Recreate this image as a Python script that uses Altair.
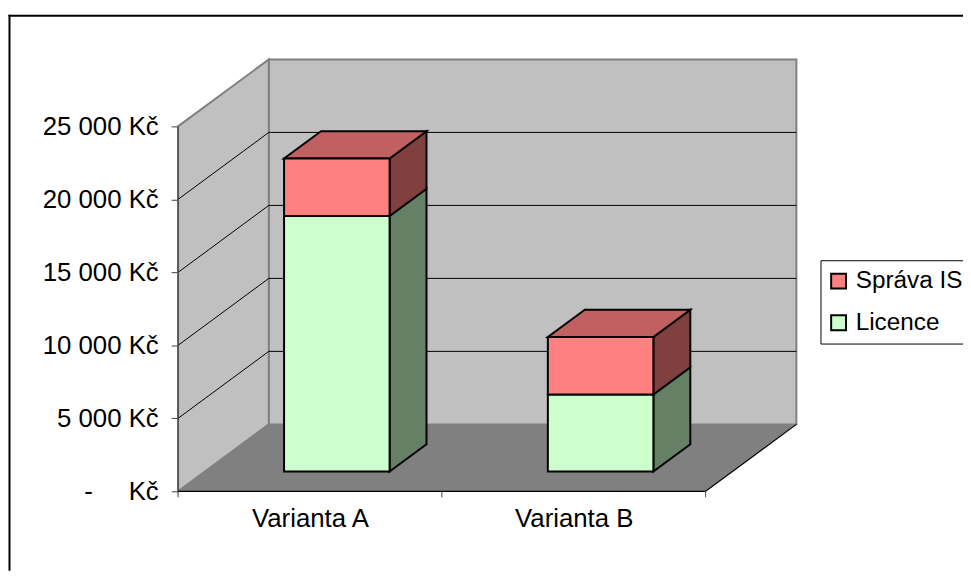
import json
import altair as alt
import pandas as pd

# ---- values ----
categories = ["Varianta A", "Varianta B"]
licence = [17500, 5270]
sprava = [3940, 3940]
series_names = ["Správa IS", "Licence"]
tick_values = [0, 5000, 10000, 15000, 20000, 25000]
tick_labels = ["-\u00a0\u00a0\u00a0\u00a0\u00a0Kč", "5 000 Kč", "10 000 Kč", "15 000 Kč", "20 000 Kč", "25 000 Kč"]

# ---- 3D look: depth shift of the box in axis units ----
DX = 0.344       # category units for full depth
DY = 4586        # Kč for full depth
BAR_W = 0.4
D0, D1 = 0.296, 0.703
FONT = "Liberation Sans"
FS = 26
W, H = 963, 565

xs = alt.Scale(domain=[-0.6447, 2.9756], nice=False, zero=False)
ys = alt.Scale(domain=[-5435, 32948], nice=False, zero=False)

label_map = {str(v): t for v, t in zip(tick_values, tick_labels)}
cat_map = {"0.5": categories[0], "1.5": categories[1]}

x_axis = alt.Axis(
    orient="bottom", offset=-80, values=[0.5, 1.5], ticks=False, domain=False, grid=False,
    labelExpr=f"{json.dumps(cat_map)}[datum.value]", labelFont=FONT, labelFontSize=26,
    labelColor="black", labelPadding=14, labelFlush=False, labelOverlap=False, title=None)
y_axis = alt.Axis(
    orient="left", offset=-171.5, values=tick_values, domain=False, grid=False,
    tickColor="#404040", tickSize=7, tickWidth=1,
    labelExpr=f"{json.dumps(label_map)}[datum.value]", labelFont=FONT, labelFontSize=FS,
    labelColor="black", labelPadding=13, labelOverlap=False, title=None)


def X(f="x"):
    return alt.X(f + ":Q", scale=xs, axis=x_axis)


def Y(f="y"):
    return alt.Y(f + ":Q", scale=ys, axis=y_axis)


back = (
    alt.Chart(pd.DataFrame([{"x": DX, "x2": 2 + DX, "y": DY, "y2": 25000 + DY}]))
    .mark_rect(fill="#C0C0C0", stroke="#808080", strokeWidth=2)
    .encode(x=X(), x2="x2:Q", y=Y(), y2="y2:Q")
)

side_wall = (
    alt.Chart(pd.DataFrame([
        {"x": 0, "y": 0, "y2": 25000},
        {"x": DX, "y": DY, "y2": 25000 + DY},
    ]))
    .mark_area(fill="#C0C0C0", stroke="#808080", strokeWidth=2)
    .encode(x=X(), y=Y(), y2="y2:Q")
)

floor = (
    alt.Chart(pd.DataFrame([
        {"y": 0, "x": 0, "x2": 2},
        {"y": DY, "x": DX, "x2": 2 + DX},
    ]))
    .mark_area(orient="horizontal", fill="#808080")
    .encode(y=Y(), x=X(), x2="x2:Q")
)

# gridlines
grid_rows = []
for v in tick_values[1:-1]:
    grid_rows.append({"x": DX, "x2": 2 + DX, "y": v + DY, "y2": v + DY})
    grid_rows.append({"x": 0, "x2": DX, "y": v, "y2": v + DY})
grid = (
    alt.Chart(pd.DataFrame(grid_rows))
    .mark_rule(color="#000000", strokeWidth=1)
    .encode(x=X(), x2="x2:Q", y=Y(), y2="y2:Q")
)

edge_rows = [
    {"x": 0, "x2": 0, "y": 0, "y2": 25000, "c": "#404040"},
    {"x": 0, "x2": 2, "y": 0, "y2": 0, "c": "#000000"},
    {"x": 2, "x2": 2 + DX, "y": 0, "y2": DY, "c": "#000000"},
]
edges = (
    alt.Chart(pd.DataFrame(edge_rows))
    .mark_rule(strokeWidth=1.2)
    .encode(x=X(), x2="x2:Q", y=Y(), y2="y2:Q", stroke=alt.Stroke("c:N", scale=None))
)

x_ticks = (
    alt.Chart(pd.DataFrame({"x": [0, 1, 2]}))
    .mark_rule(color="#404040", strokeWidth=1)
    .encode(x=X(), y=alt.value(485), y2=alt.value(491))
)

# bars
front_rows, side_rows, top_rows = [], [], []
for i, cat in enumerate(categories):
    left = i + 0.5 - BAR_W / 2 + D0 * DX
    right = left + BAR_W
    base = D0 * DY
    span = (D1 - D0)
    stack = [("Licence", 0, licence[i], "#668066"), ("Správa IS", licence[i], licence[i] + sprava[i], "#804040")]
    for name, lo, hi, side_col in stack:
        front_rows.append({"x": left, "x2": right, "y": lo + base, "y2": hi + base, "series": name})
        fid = f"{cat}-{name}"
        side_rows.append({"x": right, "y": lo + base, "y2": hi + base, "f": side_col, "id": fid})
        side_rows.append({"x": right + span * DX, "y": lo + D1 * DY, "y2": hi + D1 * DY, "f": side_col, "id": fid})
    top = licence[i] + sprava[i]
    top_rows.append({"y": top + base, "x": left, "x2": right, "id": cat, "f": "#C06060"})
    top_rows.append({"y": top + D1 * DY, "x": left + span * DX, "x2": right + span * DX, "id": cat, "f": "#C06060"})

sides = (
    alt.Chart(pd.DataFrame(side_rows))
    .mark_area(stroke="black", strokeWidth=2, strokeJoin="miter")
    .encode(x=X(), y=Y(), y2="y2:Q", detail="id:N", fill=alt.Fill("f:N", scale=None))
)
tops = (
    alt.Chart(pd.DataFrame(top_rows))
    .mark_area(orient="horizontal", stroke="black", strokeWidth=2, strokeJoin="miter")
    .encode(y=Y(), x=X(), x2="x2:Q", detail="id:N", fill=alt.Fill("f:N", scale=None))
)
fronts = (
    alt.Chart(pd.DataFrame(front_rows))
    .mark_rect(stroke="black", strokeWidth=2, opacity=1)
    .encode(
        x=X(), x2="x2:Q", y=Y(), y2="y2:Q",
        color=alt.Color("series:N",
                        scale=alt.Scale(domain=series_names, range=["#FF8080", "#CCFFCC"]),
                        legend=alt.Legend(
                            orient="none", legendX=819.3, legendY=252, title=None,
                            symbolType="square", symbolSize=225,
                            symbolStrokeColor="black", symbolStrokeWidth=2, symbolOpacity=1,
                            labelFont=FONT, labelFontSize=24.5, labelColor="black", labelOffset=5,
                            fillColor="white", strokeColor="black", padding=6, rowPadding=12,
                            clipHeight=30, labelLimit=300,
                        )),
    )
)

# chart frame (top and left edges)
frame_top = alt.Chart(pd.DataFrame({"a": [0]})).mark_rule(color="black", strokeWidth=2).encode(
    x=alt.value(0.5), x2=alt.value(W), y=alt.value(5.5))
frame_left = alt.Chart(pd.DataFrame({"a": [0]})).mark_rule(color="black", strokeWidth=2).encode(
    x=alt.value(1.5), y=alt.value(4.5), y2=alt.value(H))

chart = (
    alt.layer(frame_top, frame_left, back, side_wall, floor, grid, edges, x_ticks, sides, tops, fronts)
    .properties(width=W, height=H, padding=0, autosize=alt.AutoSizeParams(type="none"),
                background="white")
    .configure_view(stroke=None)
)

chart.save("out.html", embed_options={"renderer": "svg", "actions": False})
